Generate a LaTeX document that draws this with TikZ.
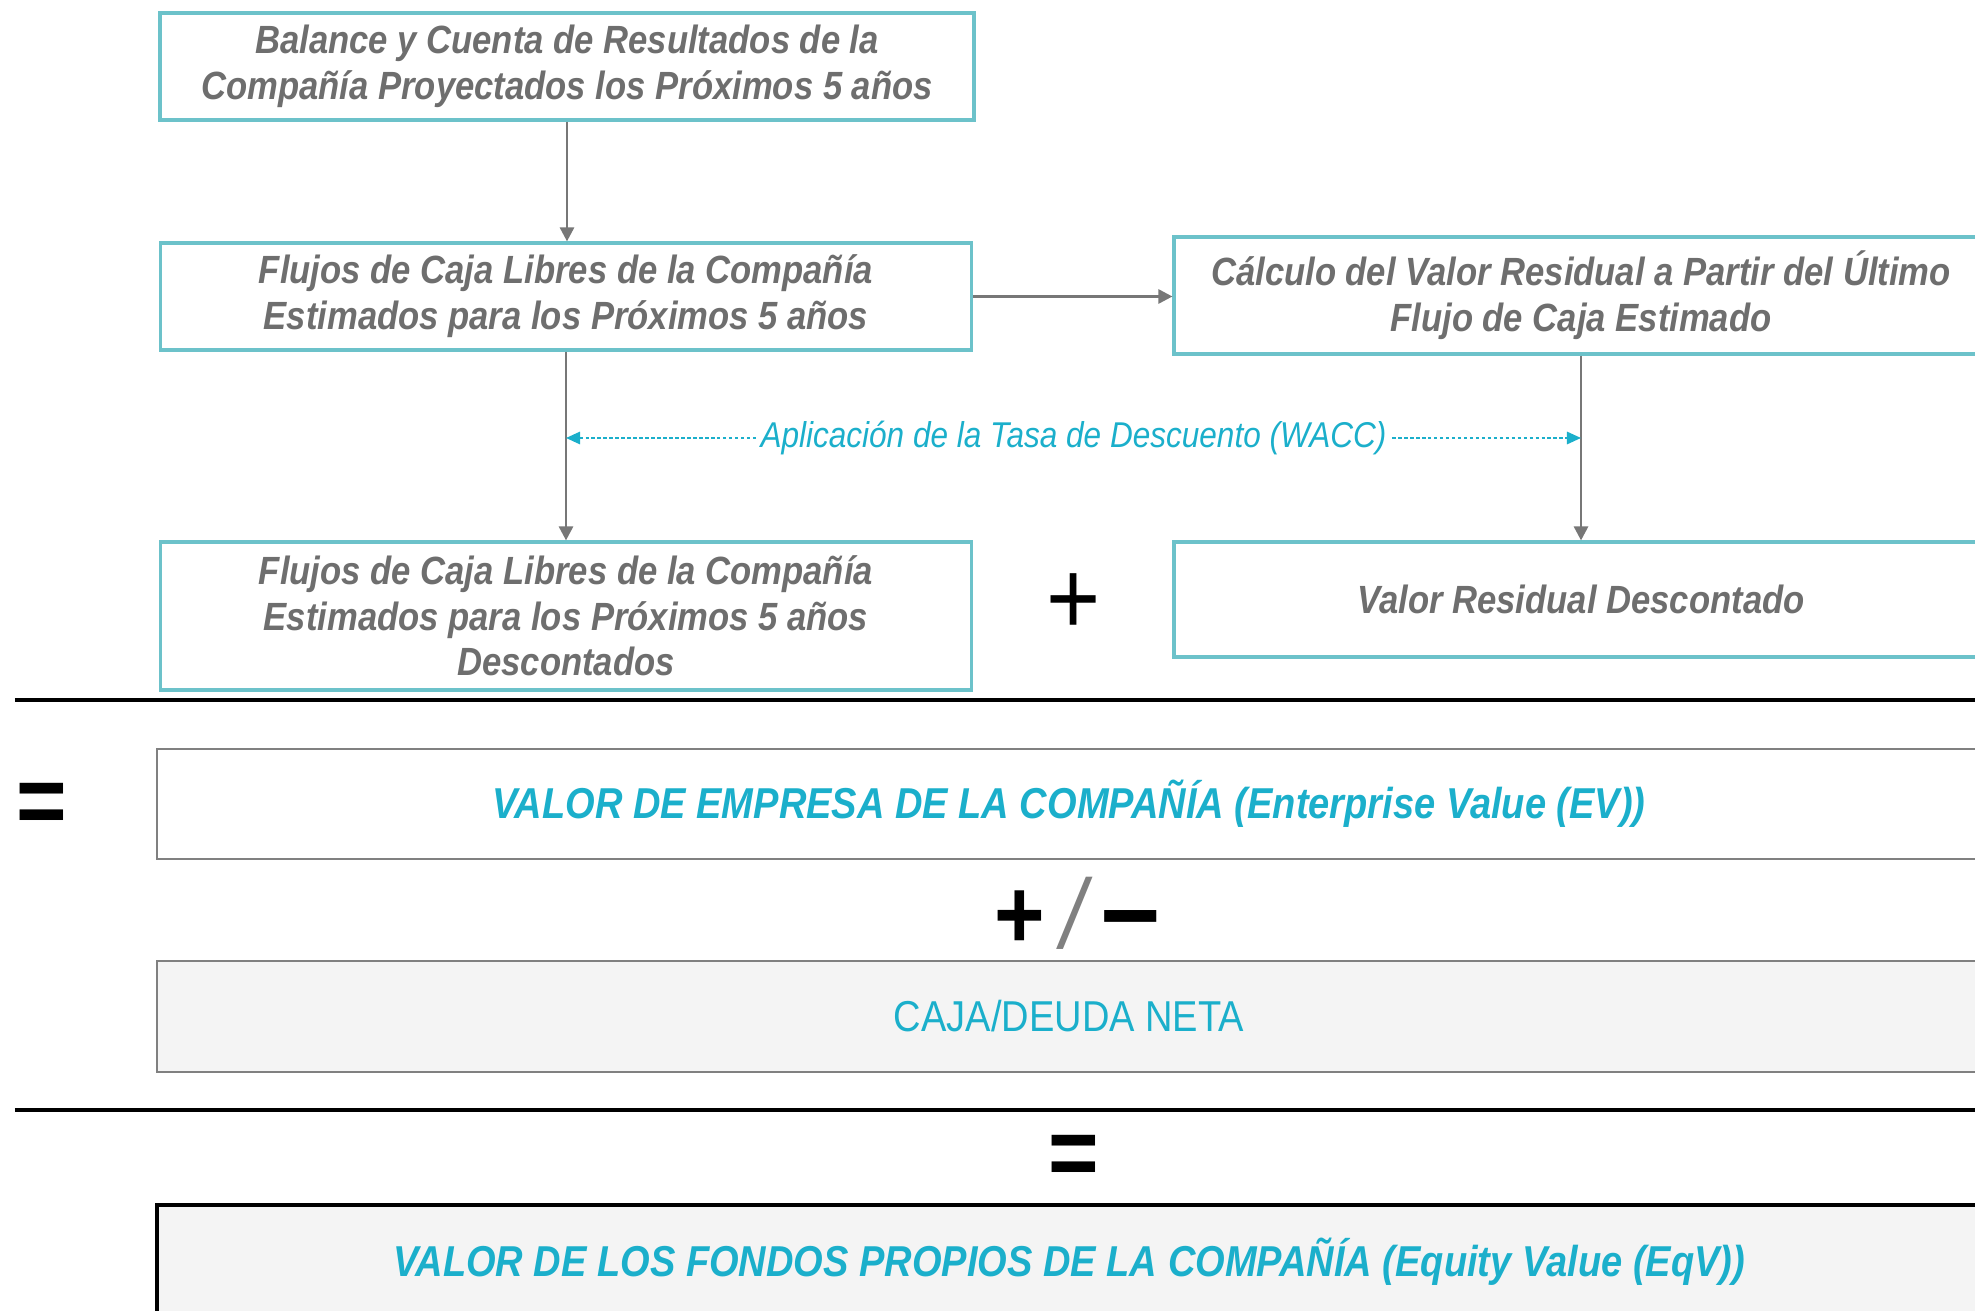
\documentclass[tikz,border=0pt]{standalone}
\usepackage{fontspec}
\setmainfont[FakeStretch=0.88]{Liberation Sans}
\usetikzlibrary{arrows.meta}

\definecolor{marco}{HTML}{6CC2CA}
\definecolor{gristxt}{HTML}{6E6E6E}
\definecolor{flechagris}{HTML}{777777}
\definecolor{cian}{HTML}{1BAFCB}
\definecolor{fondo}{HTML}{F4F4F4}

\begin{document}
\begin{tikzpicture}[
    bloque/.style = {draw=marco, line width=0.9pt, fill=white, text=gristxt, align=center,
        font=\fontsize{11.2}{13}\selectfont\bfseries\itshape, inner sep=0pt},
    total/.style = {draw=gray, line width=0.7pt, fill=white, text=cian, inner sep=0pt,
        minimum width=18.24cm, font=\fontsize{12.3}{14}\selectfont\bfseries\itshape},
    signo/.style = {font=\fontsize{28}{28}\selectfont\bfseries, inner sep=0pt},
    flecha/.style = {draw=flechagris, line width=0.8pt, -{Triangle[length=4pt,width=4pt]}},
    tasa/.style = {draw=cian, line width=0.6pt, dash pattern=on 1pt off 0.7pt,
        {Triangle[length=4pt,width=3.5pt]}-{Triangle[length=4pt,width=3.5pt]}},
    raya/.style = {line width=1.3pt}
]
    \clip (0,0) rectangle (19.75,13.1);

    % cajas superiores
    \node[bloque, minimum width=8.14cm, minimum height=1.07cm] (bal) at (5.67,12.435)
        {Balance y Cuenta de Resultados de la\\Compañía Proyectados los Próximos 5 años};
    \node[bloque, minimum width=8.11cm, minimum height=1.07cm] (fcl) at (5.66,10.135)
        {Flujos de Caja Libres de la Compañía\\Estimados para los Próximos 5 años};
    \node[bloque, minimum width=8.14cm, minimum height=1.17cm] (calc) at (15.81,10.145)
        {Cálculo del Valor Residual a Partir del Último\\Flujo de Caja Estimado};
    \node[bloque, minimum width=8.11cm, minimum height=1.48cm] (fcd) at (5.66,6.94)
        {Flujos de Caja Libres de la Compañía\\Estimados para los Próximos 5 años\\Descontados};
    \node[bloque, minimum width=8.14cm, minimum height=1.15cm] (vrd) at (15.81,7.105)
        {Valor Residual Descontado};
    \node[signo, font=\fontsize{30}{30}\selectfont] (mas) at (10.74,7.06) {+};

    \draw[flecha] (bal.south) -- (bal.south |- fcl.north);
    \draw[flecha] (fcl.east) -- (fcl.east -| calc.west);
    \draw[flecha] (fcl.south) -- (fcl.south |- fcd.north);
    \draw[flecha] (calc.south) -- (calc.south |- vrd.north);

    \coordinate (wacc1) at (5.66,8.72);
    \coordinate (wacc2) at (15.81,8.72);
    \draw[tasa] (wacc1) -- node[fill=white, inner sep=1pt, text=cian,
        font=\fontsize{10.2}{12}\selectfont\itshape] (tasa) {Aplicación de la Tasa de Descuento (WACC)} (wacc2);

    \draw[raya] (0.15,6.1) -- (19.75,6.1);

    % resultado
    \node[signo] (igual1) at (0.42,5.01) {=};
    \node[total, minimum height=1.10cm] (ev) at (10.69,5.06)
        {VALOR DE EMPRESA DE LA COMPAÑÍA (Enterprise Value (EV))};
    \node[signo] (masmenos) at (10.77,3.97)
        {+\,{\mdseries\itshape\textcolor{gray}{/}}\,{\fontsize{34}{34}\selectfont –}};
    \node[total, fill=fondo, minimum height=1.11cm, font=\fontsize{12.3}{14}\selectfont] (neta) at (10.69,2.935)
        {CAJA/DEUDA NETA};

    \draw[raya] (0.15,2.0) -- (19.75,2.0);

    \node[signo] (igual2) at (10.74,1.49) {=};
    \node[total, draw=black, line width=1.2pt, fill=fondo, minimum height=1.14cm] (eqv) at (10.69,0.48)
        {VALOR DE LOS FONDOS PROPIOS DE LA COMPAÑÍA (Equity Value (EqV))};
\end{tikzpicture}
\end{document}
